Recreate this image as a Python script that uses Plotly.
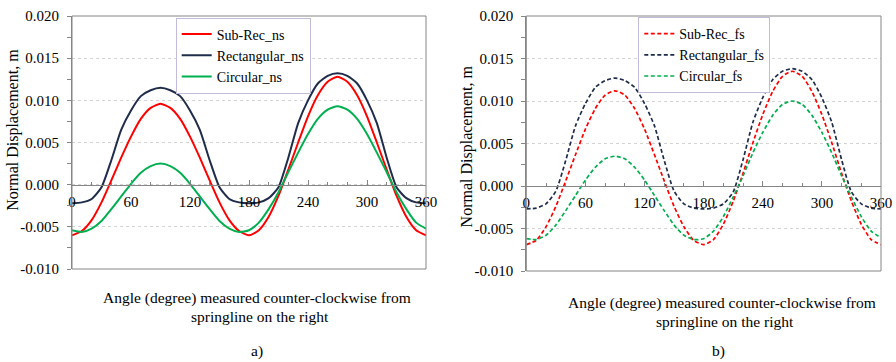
import plotly.graph_objects as go

# ---------------- data ----------------
angle = [0, 10, 20, 30, 40, 50, 60, 70, 80, 90, 100, 110, 120, 130, 140, 150, 160, 170, 180,
         190, 200, 210, 220, 230, 240, 250, 260, 270, 280, 290, 300, 310, 320, 330, 340, 350, 360]

sub_rec_ns = [-0.0060, -0.0055, -0.0042, -0.0021, 0.0005, 0.0032, 0.0057, 0.0078, 0.0091, 0.0096,
              0.0091, 0.0078, 0.0057, 0.0032, 0.0005, -0.0021, -0.0042, -0.0055, -0.0060,
              -0.0054, -0.0038, -0.0013, 0.0018, 0.0050, 0.0081, 0.0106, 0.0122, 0.0128,
              0.0122, 0.0106, 0.0081, 0.0050, 0.0018, -0.0013, -0.0038, -0.0054, -0.0060]
rectangular_ns = [-0.0022, -0.0021, -0.0017, -0.0003, 0.0029, 0.0065, 0.0088, 0.0105, 0.0112, 0.0115,
                  0.0112, 0.0105, 0.0088, 0.0065, 0.0029, -0.0003, -0.0017, -0.0021, -0.0022,
                  -0.0021, -0.0016, -0.0003, 0.0032, 0.0073, 0.0100, 0.0120, 0.0129, 0.0132,
                  0.0129, 0.0120, 0.0100, 0.0073, 0.0032, -0.0003, -0.0016, -0.0021, -0.0022]
circular_ns = [-0.0054, -0.0056, -0.0052, -0.0043, -0.0029, -0.0014, 0.0001, 0.0014, 0.0022, 0.0025,
               0.0022, 0.0014, 0.0001, -0.0014, -0.0029, -0.0043, -0.0052, -0.0056, -0.0054,
               -0.0045, -0.0029, -0.0009, 0.0015, 0.0038, 0.0060, 0.0078, 0.0089, 0.0093,
               0.0089, 0.0078, 0.0060, 0.0038, 0.0015, -0.0009, -0.0029, -0.0045, -0.0052]

sub_rec_fs = [-0.0069, -0.0064, -0.0048, -0.0024, 0.0006, 0.0037, 0.0067, 0.0091, 0.0107, 0.0112,
              0.0107, 0.0091, 0.0067, 0.0037, 0.0006, -0.0024, -0.0048, -0.0064, -0.0069,
              -0.0063, -0.0045, -0.0018, 0.0015, 0.0051, 0.0084, 0.0111, 0.0129, 0.0135,
              0.0129, 0.0111, 0.0084, 0.0051, 0.0015, -0.0018, -0.0045, -0.0063, -0.0069]
rectangular_fs = [-0.0027, -0.0026, -0.0021, -0.0006, 0.0030, 0.0071, 0.0097, 0.0116, 0.0124, 0.0127,
                  0.0124, 0.0116, 0.0097, 0.0071, 0.0030, -0.0006, -0.0021, -0.0026, -0.0027,
                  -0.0026, -0.0021, -0.0007, 0.0031, 0.0075, 0.0104, 0.0125, 0.0135, 0.0138,
                  0.0135, 0.0125, 0.0104, 0.0075, 0.0031, -0.0007, -0.0021, -0.0026, -0.0027]
circular_fs = [-0.0062, -0.0063, -0.0058, -0.0046, -0.0029, -0.0011, 0.0007, 0.0022, 0.0032, 0.0035,
               0.0032, 0.0022, 0.0007, -0.0011, -0.0029, -0.0046, -0.0058, -0.0063, -0.0062,
               -0.0053, -0.0036, -0.0013, 0.0012, 0.0039, 0.0063, 0.0083, 0.0096, 0.0100,
               0.0096, 0.0083, 0.0063, 0.0039, 0.0012, -0.0013, -0.0036, -0.0053, -0.0061]

y_tick_vals = [-0.010, -0.005, 0.000, 0.005, 0.010, 0.015, 0.020]
y_tick_text = ["-0.010", "-0.005", "0.000", "0.005", "0.010", "0.015", "0.020"]

x_title_1 = "Angle (degree) measured counter-clockwise from"
x_title_2 = "springline on the right"
y_title = "Normal Displacement, m"

# ---------------- style ----------------
W, H = 896, 362
FONT = "Liberation Serif"
RED, NAVY, GREEN = "#FF0000", "#1F2C4A", "#00B050"
AXC = "#868686"
Y_RANGE = [-0.01, 0.02]


def px(x):
    return x / W


def py(y):
    return 1 - y / H


ydom1 = [py(269), py(16)]
ydom2 = [py(271), py(16)]


def zero_pos(dom):
    return dom[0] + (0 - Y_RANGE[0]) / (Y_RANGE[1] - Y_RANGE[0]) * (dom[1] - dom[0])


fig = go.Figure()

left_series = [("Sub-Rec_ns", sub_rec_ns, RED), ("Rectangular_ns", rectangular_ns, NAVY),
               ("Circular_ns", circular_ns, GREEN)]
right_series = [("Sub-Rec_fs", sub_rec_fs, RED), ("Rectangular_fs", rectangular_fs, NAVY),
                ("Circular_fs", circular_fs, GREEN)]

for name, ys, col in left_series:
    fig.add_trace(go.Scatter(x=angle, y=ys, mode="lines", name=name, xaxis="x", yaxis="y",
                             legend="legend",
                             line=dict(color=col, width=2, shape="spline", smoothing=0.6)))
for name, ys, col in right_series:
    fig.add_trace(go.Scatter(x=angle, y=ys, mode="lines", name=name, xaxis="x2", yaxis="y2",
                             legend="legend2",
                             line=dict(color=col, width=1.7, dash="4px,2.5px", shape="spline",
                                       smoothing=0.6)))


def xaxis_cfg(domain, pos):
    return dict(domain=domain, range=[0, 360], anchor="free", position=pos,
                showline=True, linecolor=AXC, linewidth=1, automargin=False,
                tickmode="linear", tick0=0, dtick=60,
                ticks="inside", ticklen=5, tickcolor=AXC,
                minor=dict(tick0=0, dtick=20, ticks="inside", ticklen=3, tickcolor=AXC),
                showgrid=False, zeroline=False, ticklabelstandoff=3,
                tickfont=dict(family=FONT, size=15, color="black"))


def yaxis_cfg(domain, anchor):
    return dict(domain=domain, range=Y_RANGE, anchor=anchor, automargin=False,
                tickmode="array", tickvals=y_tick_vals, ticktext=y_tick_text,
                ticks="outside", ticklen=4, tickcolor=AXC,
                minor=dict(tick0=0, dtick=0.0025, ticks="outside", ticklen=4, tickcolor=AXC,
                           showgrid=False),
                showline=True, linecolor=AXC, linewidth=1,
                showgrid=True, gridcolor="#D4D4D4", griddash="dot", gridwidth=1,
                zeroline=False, ticklabelstandoff=5,
                tickfont=dict(family=FONT, size=15, color="black"))


legend_common = dict(xanchor="left", yanchor="top", bgcolor="white", bordercolor="#C2BBDA",
                     borderwidth=1, font=dict(family=FONT, size=14, color="black"),
                     itemwidth=30, tracegroupgap=0)

annotations = [
    dict(text=y_title, x=px(12.7), y=py(130), textangle=-90),
    dict(text=y_title, x=px(466.7), y=py(146.7), textangle=-90),
    dict(text=x_title_1, x=px(256.5), y=py(298)),
    dict(text=x_title_2, x=px(260), y=py(316)),
    dict(text=x_title_1, x=px(722), y=py(303)),
    dict(text=x_title_2, x=px(725), y=py(321)),
    dict(text="a)", x=px(257), y=py(351)),
    dict(text="b)", x=px(718), y=py(351)),
]
for a in annotations:
    a.update(xref="paper", yref="paper", showarrow=False, xanchor="center", yanchor="middle",
             font=dict(family=FONT, size=16 if a["text"] == y_title else 15.5, color="black"))

shapes = [
    dict(type="rect", xref="x domain", yref="y domain", x0=0, x1=1, y0=0, y1=1,
         line=dict(color=AXC, width=1)),
    dict(type="rect", xref="x2 domain", yref="y2 domain", x0=0, x1=1, y0=0, y1=1,
         line=dict(color=AXC, width=1)),
]

fig.update_layout(
    width=W, height=H, margin=dict(l=0, r=0, t=0, b=0, pad=0, autoexpand=False),
    paper_bgcolor="white", plot_bgcolor="white",
    xaxis=xaxis_cfg([px(72), px(426)], zero_pos(ydom1)),
    yaxis=yaxis_cfg(ydom1, "x"),
    xaxis2=xaxis_cfg([px(526.3), px(881)], zero_pos(ydom2)),
    yaxis2=yaxis_cfg(ydom2, "x2"),
    legend=dict(x=px(175.7), y=py(17.5), **legend_common),
    legend2=dict(x=px(638.3), y=py(17), **legend_common),
    annotations=annotations,
    shapes=shapes,
    font=dict(family=FONT, color="black"),
)

fig.write_html("out.html")
